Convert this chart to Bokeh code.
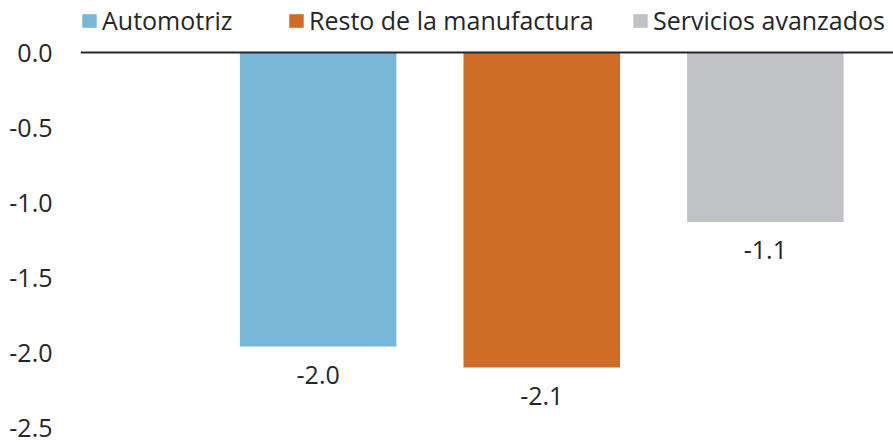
from bokeh.plotting import figure
from bokeh.models import (Range1d, FixedTicker, NumeralTickFormatter, Span,
                          Legend, LegendItem, ColumnDataSource)
from bokeh.core.properties import value
from bokeh.embed import file_html
from bokeh.resources import INLINE

categories = ["Automotriz", "Resto de la manufactura", "Servicios avanzados"]
values = [-1.96, -2.1, -1.13]
labels = ["-2.0", "-2.1", "-1.1"]
colors = ["#78B7D8", "#CF6C26", "#C1C2C5"]
y_ticks = [0.0, -0.5, -1.0, -1.5, -2.0, -2.5]

FONT = "Open Sans"
FS = "25px"
TXT = "#262626"

p = figure(width=893, height=444, output_backend="svg", toolbar_location=None,
           x_range=Range1d(-0.0627, 3.573), y_range=Range1d(-2.5, 0.347),
           min_border_left=80, min_border_right=0, min_border_top=0,
           min_border_bottom=17)
p.outline_line_color = None
p.grid.visible = False
p.xaxis.visible = False

xs = [i + 1 for i in range(len(categories))]
src = ColumnDataSource(dict(x=xs, bottom=values, lab=labels))
renderers = []
for i in range(len(categories)):
    r = p.vbar(x=[xs[i]], top=[0], bottom=[values[i]], width=0.70,
               color=colors[i], line_color=None)
    renderers.append(r)

p.text(x="x", y="bottom", text="lab", source=src, text_align="center",
       text_baseline="middle", y_offset=28, text_font=value(FONT),
       text_font_size=FS, text_color=TXT)

p.add_layout(Span(location=0, dimension="width", line_color=TXT, line_width=2))

ax = p.yaxis[0]
ax.ticker = FixedTicker(ticks=y_ticks)
ax.formatter = NumeralTickFormatter(format="0.0")
ax.axis_line_color = None
ax.major_tick_line_color = None
ax.minor_tick_line_color = None
ax.major_label_standoff = 22
ax.major_label_text_font = FONT
ax.major_label_text_font_size = FS
ax.major_label_text_color = TXT

leg_x = [0, 207, 551]
for i, r in enumerate(renderers):
    lg = Legend(items=[LegendItem(label=categories[i], renderers=[r])],
                location=(leg_x[i], 390), orientation="horizontal",
                padding=0, margin=0, border_line_color=None,
                background_fill_alpha=0, glyph_width=18, glyph_height=17,
                label_standoff=4, label_text_font=FONT,
                label_text_font_size=FS, label_text_color=TXT,
                label_height=17)
    p.add_layout(lg, "center")

open("out.html", "w").write(file_html(p, INLINE))
